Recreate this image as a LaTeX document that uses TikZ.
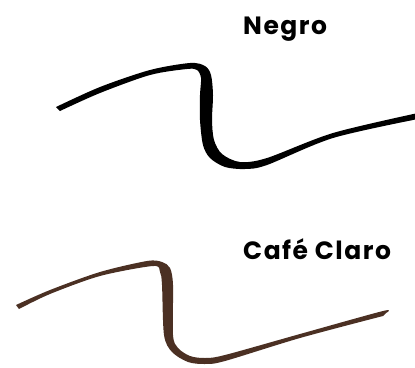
\documentclass[tikz,border=0pt]{standalone}
\usepackage{fontspec}
\setmainfont{Poppins}
\definecolor{cafe}{RGB}{75,48,35}
\begin{document}
\begin{tikzpicture}[x=1pt,y=-1pt,
  lbl/.style={anchor=base west,inner sep=0pt,font=\fontsize{25}{28}\selectfont\bfseries\addfontfeature{LetterSpace=6}}]
\useasboundingbox (0,0) rectangle (415,367);
\fill[black] plot[smooth,tension=0.5] coordinates {(56,107) (100,87) (150,70) (190,63) (205,66) (211,75) (213,95) (212,120) (214,140) (222,154) (240,162) (267,158) (333,133) (418,113)}
  -- plot[smooth,tension=0.5] coordinates {(418,119) (333,138) (267,165) (245,169) (225,167) (210,158) (203,145) (200,120) (200,95) (201,78) (197,70) (187,69) (150,75) (100,93) (60,111)} -- cycle;
\fill[cafe] plot[smooth,tension=0.5] coordinates {(16,305) (50,290) (100,272) (147,261) (162,262) (170,268) (173,285) (173,335) (178,348) (190,356) (205,358) (225,355) (300,334) (383,311) (386,313)}
  -- plot[smooth,tension=0.5] coordinates {(383,316) (300,338) (225,361) (205,364) (188,362) (172,352) (164,335) (162,285) (160,272) (153,266) (100,276) (50,294) (19,309)} -- cycle;
\node[lbl] (negro) at (243,34) {Negro};
\node[lbl] (cafe) at (243,259) {Café Claro};
\end{tikzpicture}
\end{document}
